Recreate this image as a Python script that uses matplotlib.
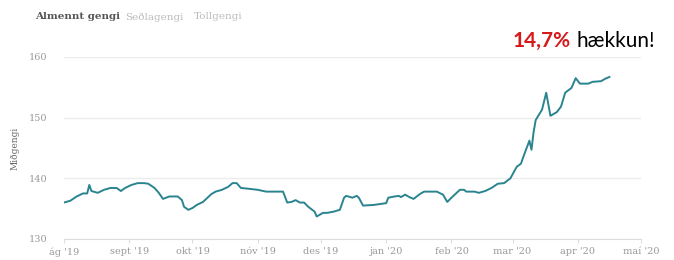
import matplotlib.pyplot as plt
import pandas as pd

dates = ["2019-08-01", "2019-08-04", "2019-08-07", "2019-08-10", "2019-08-12",
         "2019-08-13", "2019-08-14", "2019-08-17", "2019-08-20", "2019-08-23",
         "2019-08-26", "2019-08-28", "2019-08-30", "2019-09-02", "2019-09-05",
         "2019-09-08", "2019-09-10", "2019-09-13", "2019-09-15", "2019-09-17",
         "2019-09-20", "2019-09-24", "2019-09-26", "2019-09-27", "2019-09-29",
         "2019-10-01", "2019-10-03", "2019-10-06", "2019-10-10", "2019-10-12",
         "2019-10-15", "2019-10-18", "2019-10-20", "2019-10-22", "2019-10-24",
         "2019-10-27", "2019-11-01", "2019-11-05", "2019-11-13", "2019-11-15",
         "2019-11-17", "2019-11-19", "2019-11-21", "2019-11-23", "2019-11-25",
         "2019-11-28", "2019-11-29", "2019-12-02", "2019-12-04", "2019-12-07",
         "2019-12-10", "2019-12-12", "2019-12-13", "2019-12-16", "2019-12-18",
         "2019-12-19", "2019-12-21", "2019-12-26", "2020-01-01", "2020-01-02",
         "2020-01-05", "2020-01-07", "2020-01-08", "2020-01-10", "2020-01-12",
         "2020-01-14", "2020-01-17", "2020-01-19", "2020-01-22", "2020-01-25",
         "2020-01-28", "2020-01-30", "2020-02-01", "2020-02-05", "2020-02-07",
         "2020-02-08", "2020-02-12", "2020-02-14", "2020-02-17", "2020-02-20",
         "2020-02-23", "2020-02-26", "2020-02-29", "2020-03-03", "2020-03-05",
         "2020-03-06", "2020-03-09", "2020-03-10", "2020-03-11", "2020-03-12",
         "2020-03-15", "2020-03-17", "2020-03-19", "2020-03-22", "2020-03-24",
         "2020-03-26", "2020-03-29", "2020-03-31", "2020-04-02", "2020-04-06",
         "2020-04-08", "2020-04-12", "2020-04-14", "2020-04-16"]

rate = [136.0, 136.3, 137.0, 137.5, 137.5,
        138.9, 137.9, 137.6, 138.1, 138.4,
        138.4, 137.9, 138.4, 138.9, 139.2,
        139.2, 139.1, 138.4, 137.6, 136.6,
        137.0, 137.0, 136.4, 135.3, 134.8,
        135.1, 135.6, 136.1, 137.4, 137.8,
        138.1, 138.6, 139.2, 139.2, 138.4,
        138.3, 138.1, 137.8, 137.8, 136.0,
        136.1, 136.4, 136.0, 136.0, 135.3,
        134.5, 133.7, 134.3, 134.3, 134.5,
        134.8, 136.8, 137.1, 136.8, 137.1,
        136.8, 135.5, 135.6, 135.9, 136.8,
        137.0, 137.1, 136.9, 137.3, 136.9,
        136.6, 137.4, 137.8, 137.8, 137.8,
        137.3, 136.1, 136.8, 138.1, 138.1,
        137.8, 137.8, 137.6, 137.9, 138.4,
        139.1, 139.2, 140.0, 141.9, 142.4,
        143.4, 146.2, 144.7, 147.6, 149.6,
        151.3, 154.1, 150.3, 150.9, 151.8,
        154.1, 154.9, 156.5, 155.6, 155.6,
        155.9, 156.0, 156.4, 156.7]

month_ticks = pd.date_range("2019-08-01", "2020-05-01", freq="MS")
month_labels = ["ág '19", "sept '19", "okt '19", "nóv '19", "des '19",
                "jan '20", "feb '20", "mar '20", "apr '20", "maí '20"]
tabs = ["Almennt gengi", "Seðlagengi", "Tollgengi"]

fig = plt.figure(figsize=(6.74, 2.6), dpi=100)
ax = fig.add_axes([0.095, 0.081, 0.856, 0.7])

ax.plot(pd.to_datetime(dates), rate, color="#2a8490", lw=1.4)

ax.set_xlim(pd.Timestamp("2019-08-01"), pd.Timestamp("2020-05-01"))
ax.set_ylim(130, 160)
ax.set_yticks([130, 140, 150, 160])
ax.set_xticks(month_ticks)
ax.set_xticklabels(month_labels)
ax.grid(axis="y", color="#ececec", lw=1)
ax.set_axisbelow(True)
for s in ["top", "right", "left"]:
    ax.spines[s].set_visible(False)
ax.spines["bottom"].set_color("#dddddd")
ax.tick_params(axis="y", length=0, pad=12, labelsize=7, labelcolor="#999999")
ax.tick_params(axis="x", length=3, color="#dddddd", pad=3, labelsize=7,
               labelcolor="#999999")
for lab in ax.get_xticklabels() + ax.get_yticklabels():
    lab.set_family("DejaVu Serif")

fig.text(0.022, 0.431, "Miðgengi", rotation=90, va="center", ha="center",
         fontsize=6.5, color="#666666", family="DejaVu Serif")

fig.text(0.052, 0.935, tabs[0], fontsize=7.5, color="#555555",
         family="DejaVu Serif", weight="bold", va="center")
fig.text(0.185, 0.935, tabs[1], fontsize=7.5, color="#bbbbbb",
         family="DejaVu Serif", va="center")
fig.text(0.287, 0.935, tabs[2], fontsize=7.5, color="#bbbbbb",
         family="DejaVu Serif", va="center")

fig.text(0.847, 0.842, "14,7%", color="#d7191c", fontsize=15,
         weight="bold", family="Lato", ha="right", va="center")
fig.text(0.856, 0.842, "hækkun!", color="black", fontsize=15,
         family="Lato", ha="left", va="center")

fig.savefig("out.png", dpi=100)
